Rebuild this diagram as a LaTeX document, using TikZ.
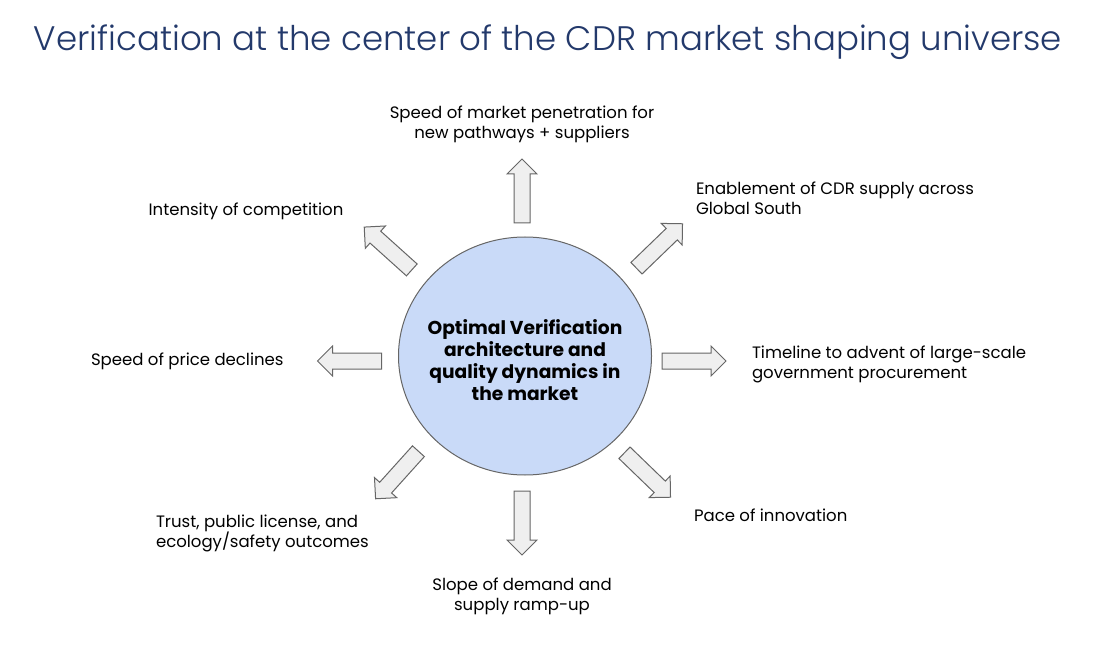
\documentclass[tikz,border=0pt]{standalone}
\usepackage{fontspec}
\setmainfont{Poppins}
\newfontfamily\titlefont{Poppins Light}
\usepackage{tikz}
\usetikzlibrary{shapes.geometric}
\definecolor{hubblue}{HTML}{C9DAF8}
\definecolor{titlenavy}{HTML}{23396B}
\definecolor{arrowgrey}{HTML}{EFEFEF}
\definecolor{edgegrey}{HTML}{666666}
% block arrow pointing along +x, centred on the pic origin
\tikzset{pics/fatarrow/.style={code={
  \draw[draw=edgegrey,fill=arrowgrey,line width=0.75pt,line join=miter]
    (-32,-8) -- (17,-8) -- (17,-15) -- (32,0) -- (17,15) -- (17,8)
    -- (-32,8) -- cycle;}}}

\begin{document}
\begin{tikzpicture}[x=0.75pt,y=-0.75pt,
                    every node/.style={inner sep=0pt,outer sep=0pt},
                    hub/.style={ellipse,draw=edgegrey,fill=hubblue,
                                line width=0.75pt,
                                minimum width=189.75pt,minimum height=178.5pt},
                    hubtext/.style={align=center,text=black,
                                    font=\bfseries\fontsize{14}{16.5}\selectfont},
                    factor/.style={align=left,text=black,
                                   font=\fontsize{12.4}{15}\selectfont},
                    heading/.style={text=titlenavy,
                                    font=\titlefont\fontsize{25.5}{30}\selectfont}]
\useasboundingbox (0,0) rectangle (1096,645);
% title
\node [heading] (title) at (548,42) {Verification at the center of the CDR market shaping universe};
% the hub
\node [hub,label={[hubtext,yshift=-3pt]center:Optimal Verification\\architecture and\\quality dynamics in\\the market}] (hub) at (525,356) {};
% arrows pointing away from the hub
\foreach \dir/\x/\y/\ang in {n/522/191/90, s/522/523/-90,
                             w/349.5/361/180, e/694/361/0,
                             nw/388/248.5/138, ne/659.5/246/44,
                             sw/397/475/-132, se/647.5/475/-44}
{
      \pic [rotate=\ang] (arrow \dir) at (\x,\y) {fatarrow};
}
% the factors
\node [factor,align=center] (factor n) at (522,124) {Speed of market penetration for\\new pathways + suppliers};
\node [factor,anchor=west] (factor ne) at (696,198) {Enablement of CDR supply across\\Global South};
\node [factor] (factor nw) at (246,211) {Intensity of competition};
\node [factor,anchor=west] (factor w) at (91,361) {Speed of price declines};
\node [factor,anchor=west] (factor e) at (752,364) {Timeline to advent of large-scale\\government procurement};
\node [factor,anchor=west] (factor se) at (694,515) {Pace of innovation};
\node [factor,anchor=west] (factor sw) at (156,533) {Trust, public license, and\\ecology/safety outcomes};
\node [factor,align=center] (factor s) at (522,596) {Slope of demand and\\supply ramp-up};
\end{tikzpicture}
\end{document}
